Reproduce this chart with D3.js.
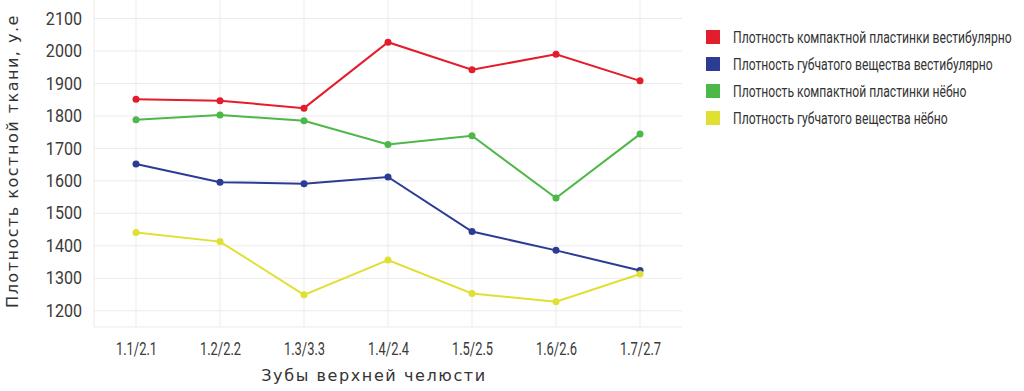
<!DOCTYPE html>
<html lang="ru">
<head>
<meta charset="UTF-8">
<title>Плотность костной ткани</title>
<script src="https://cdn.jsdelivr.net/npm/d3@7"></script>
<style>
  body { margin: 0; background: #fff; }
</style>
</head>
<body>
<svg id="chart" width="1024" height="391"></svg>
<script>
// categories (teeth of upper jaw)
var teeth = ["1.1/2.1", "1.2/2.2", "1.3/3.3", "1.4/2.4", "1.5/2.5", "1.6/2.6", "1.7/2.7"];

// series values
var compactVest = [1851, 1847, 1824, 2027, 1942, 1990, 1908];
var spongyVest  = [1652, 1596, 1591, 1612, 1444, 1386, 1324];
var compactPal  = [1788, 1803, 1785, 1712, 1739, 1547, 1744];
var spongyPal   = [1441, 1413, 1249, 1356, 1253, 1228, 1313];

var seriesNames = [
  "Плотность компактной пластинки вестибулярно",
  "Плотность губчатого вещества вестибулярно",
  "Плотность компактной пластинки нёбно",
  "Плотность губчатого вещества нёбно"
];
var seriesColors = ["#e31d2b", "#2c3b94", "#4db848", "#e0e033"];

var yTicks = [1200, 1300, 1400, 1500, 1600, 1700, 1800, 1900, 2000, 2100];

var series = [compactVest, spongyVest, compactPal, spongyPal];

var svg = d3.select("#chart");
var pLeft = 94, pRight = 682, pTop = 0, pBottom = 327;

var x = d3.scalePoint().domain(teeth).range([pLeft, pRight]).padding(0.5);
var y = d3.scaleLinear().domain([1150, 2157]).range([pBottom, pTop]);

// grid
svg.append("g").selectAll("line").data(yTicks).enter().append("line")
  .attr("x1", pLeft).attr("x2", pRight)
  .attr("y1", function(d){ return y(d); }).attr("y2", function(d){ return y(d); })
  .attr("stroke", "#ebebeb").attr("stroke-width", 1);
svg.append("g").selectAll("line").data(teeth).enter().append("line")
  .attr("x1", function(d){ return x(d); }).attr("x2", function(d){ return x(d); })
  .attr("y1", pTop).attr("y2", pBottom)
  .attr("stroke", "#ebebeb").attr("stroke-width", 1);
// panel edges (left + bottom)
svg.append("line").attr("x1", pLeft).attr("x2", pLeft).attr("y1", pTop).attr("y2", pBottom)
  .attr("stroke", "#ebebeb");
svg.append("line").attr("x1", pLeft).attr("x2", pRight).attr("y1", pBottom).attr("y2", pBottom)
  .attr("stroke", "#ebebeb");

// axes (condensed look: scale the text horizontally around its anchor)
var yAxis = svg.append("g").attr("transform", "translate(" + (pLeft - 12) + ",0)")
  .call(d3.axisLeft(y).tickValues(yTicks).tickSize(0).tickPadding(0).tickFormat(d3.format("d")));
yAxis.select(".domain").remove();
yAxis.selectAll("text").attr("font-family", "Roboto, sans-serif").attr("font-size", 17.5)
  .attr("fill", "#3a3a3a").attr("transform", "scale(0.92,1)");

var xAxis = svg.append("g").attr("transform", "translate(0," + (pBottom + 14) + ")")
  .call(d3.axisBottom(x).tickSize(0).tickPadding(0));
xAxis.select(".domain").remove();
xAxis.selectAll("text").attr("font-family", "Roboto, sans-serif").attr("font-size", 19)
  .attr("fill", "#3a3a3a").attr("transform", "scale(0.68,1)");

// axis titles
svg.append("text").attr("x", 374).attr("y", 381)
  .attr("text-anchor", "middle").attr("font-family", "DejaVu Sans, sans-serif")
  .attr("font-size", 16).attr("letter-spacing", 1.6).attr("fill", "#333")
  .text("Зубы верхней челюсти");
svg.append("text").attr("transform", "translate(18,161) rotate(-90)")
  .attr("text-anchor", "middle").attr("font-family", "DejaVu Sans, sans-serif")
  .attr("font-size", 16).attr("letter-spacing", 1.5).attr("fill", "#333")
  .text("Плотность костной ткани, у.е");

// lines + points
var line = d3.line()
  .x(function(d, i){ return x(teeth[i]); })
  .y(function(d){ return y(d); });

series.forEach(function(vals, k){
  var g = svg.append("g");
  g.append("path").datum(vals).attr("d", line)
    .attr("fill", "none").attr("stroke", seriesColors[k]).attr("stroke-width", 2);
  g.selectAll("circle").data(vals).enter().append("circle")
    .attr("cx", function(d, i){ return x(teeth[i]); })
    .attr("cy", function(d){ return y(d); })
    .attr("r", 3.5).attr("fill", seriesColors[k]);
});

// legend
var legend = svg.append("g").attr("transform", "translate(706,30)");
var legendText = [];
seriesNames.forEach(function(name, k){
  var row = legend.append("g").attr("transform", "translate(0," + (k * 27) + ")");
  row.append("rect").attr("width", 14).attr("height", 14).attr("fill", seriesColors[k]);
  legendText.push(row.append("text").attr("x", 0).attr("y", 13)
    .attr("font-family", "Roboto, sans-serif").attr("font-size", 16)
    .attr("fill", "#333").text(name).node());
});
// fit the longest label to the width it takes in the original
var fit = 279 / legendText[0].getComputedTextLength();
legendText.forEach(function(n){
  d3.select(n).attr("transform", "translate(27,0) scale(" + fit + ",1)");
});
</script>
</body>
</html>
